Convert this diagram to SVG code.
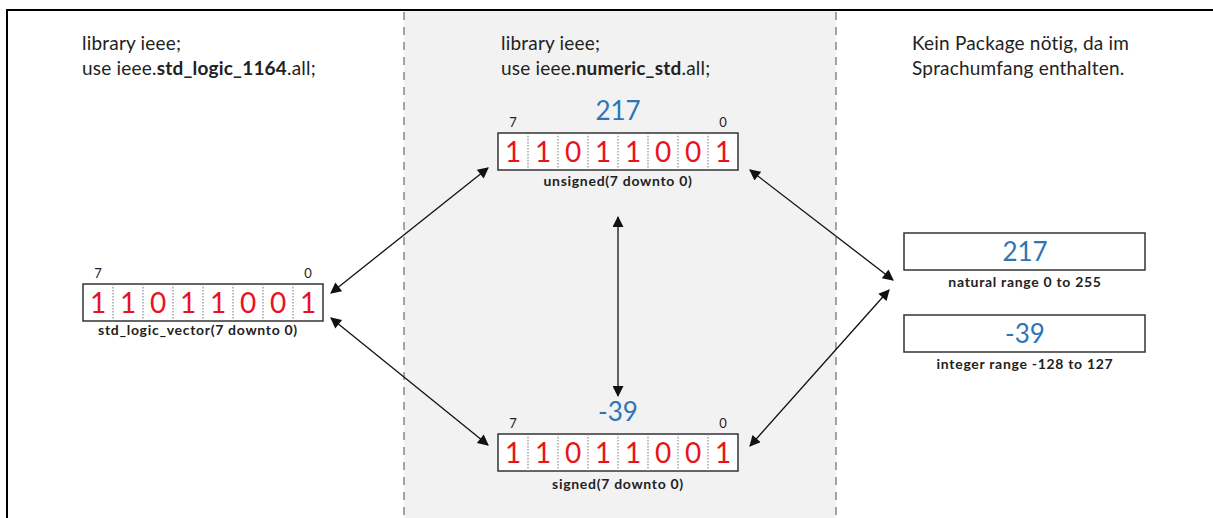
<svg xmlns="http://www.w3.org/2000/svg" width="1213" height="518" viewBox="0 0 1213 518">
<style>
text{font-family:Lato,"Open Sans","Liberation Sans",sans-serif}
.hdr{font-size:19px;fill:#222;letter-spacing:0.2px}
.b{font-weight:bold}
.bit{font-size:28px;fill:#e8141c;text-anchor:middle}
.idx{font-size:13px;fill:#222;text-anchor:middle}
.val{font-size:26px;fill:#2e75b6;text-anchor:middle}
.lbl{font-size:14px;font-weight:bold;fill:#222;text-anchor:middle;letter-spacing:0.7px}
.box{fill:#fff;stroke:#333;stroke-width:1.5}
.div{stroke:#777;stroke-width:1;stroke-dasharray:1.5 1.5}
.con{stroke:#111;stroke-width:1.3;fill:none;marker-start:url(#ah);marker-end:url(#ah)}
</style>
<defs>
<marker id="ah" viewBox="0 0 10 10" refX="9" refY="5" markerWidth="15" markerHeight="11" markerUnits="userSpaceOnUse" orient="auto-start-reverse">
<path d="M0,0 L10,5 L0,10 z" fill="#111"/>
</marker>
<g id="bits">
<rect class="box" x="0" y="0" width="240" height="37"/>
<path class="div" d="M30,0V37M60,0V37M90,0V37M120,0V37M150,0V37M180,0V37M210,0V37"/>
<text class="bit" x="15" y="29">1</text><text class="bit" x="45" y="29">1</text><text class="bit" x="75" y="29">0</text><text class="bit" x="105" y="29">1</text><text class="bit" x="135" y="29">1</text><text class="bit" x="165" y="29">0</text><text class="bit" x="195" y="29">0</text><text class="bit" x="225" y="29">1</text>
<text class="idx" x="15" y="-6">7</text><text class="idx" x="225" y="-6">0</text>
</g>
</defs>
<rect x="404" y="10" width="432" height="508" fill="#f2f2f2"/>
<path d="M7,518V10H1213" stroke="#000" stroke-width="2" fill="none"/>
<path d="M404,12V518M836,12V518" stroke="#888" stroke-width="1.5" stroke-dasharray="8 7"/>
<g id="header-left">
<text class="hdr" x="82" y="50">library ieee;</text>
<text class="hdr" x="82" y="75">use ieee.<tspan class="b">std_logic_1164</tspan>.all;</text>
</g>
<g id="header-mid">
<text class="hdr" x="501" y="50">library ieee;</text>
<text class="hdr" x="501" y="75">use ieee.<tspan class="b">numeric_std</tspan>.all;</text>
</g>
<g id="header-right">
<text class="hdr" x="912" y="50">Kein Package nötig, da im</text>
<text class="hdr" x="912" y="75">Sprachumfang enthalten.</text>
</g>
<g id="slv">
<use href="#bits" x="83" y="284"/>
<text class="lbl" x="198" y="335">std_logic_vector(7 downto 0)</text>
</g>
<g id="unsigned">
<text class="val" x="618" y="120">217</text>
<use href="#bits" x="498" y="133"/>
<text class="lbl" x="618" y="186">unsigned(7 downto 0)</text>
</g>
<g id="signed">
<text class="val" x="618" y="421">-39</text>
<use href="#bits" x="498" y="434"/>
<text class="lbl" x="618" y="489">signed(7 downto 0)</text>
</g>
<g id="natural">
<rect class="box" x="904" y="233" width="241" height="37"/>
<text class="val" x="1025" y="261">217</text>
<text class="lbl" x="1025" y="287">natural range 0 to 255</text>
</g>
<g id="integer">
<rect class="box" x="904" y="315" width="241" height="37"/>
<text class="val" x="1025" y="343">-39</text>
<text class="lbl" x="1025" y="369">integer range -128 to 127</text>
</g>
<g id="connectors">
<line class="con" x1="331" y1="293" x2="488" y2="168"/>
<line class="con" x1="331" y1="318" x2="488" y2="445"/>
<line class="con" x1="618" y1="217" x2="618" y2="396"/>
<line class="con" x1="750" y1="170" x2="893" y2="280"/>
<line class="con" x1="750" y1="446" x2="889" y2="290"/>
</g>
</svg>
